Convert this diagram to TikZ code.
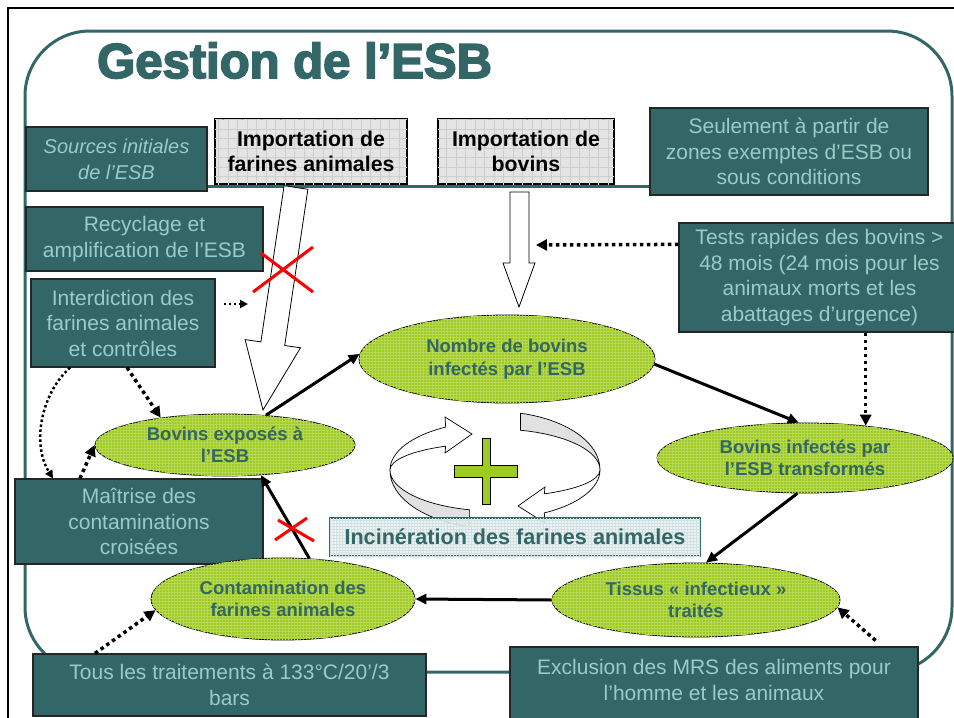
\documentclass[tikz,border=0pt]{standalone}
\usepackage{fontspec}
\setmainfont{Liberation Sans}
\newfontfamily\titlefont[FakeBold=3.5]{Liberation Sans Bold}
\usetikzlibrary{shapes.geometric,arrows.meta,patterns,patterns.meta,calc}
\definecolor{tealc}{RGB}{51,102,102}
\definecolor{ltealc}{RGB}{150,205,200}
\definecolor{greenc}{RGB}{158,202,36}
\definecolor{greenl}{RGB}{182,216,84}
\definecolor{greyc}{RGB}{228,228,228}
\definecolor{greyl}{RGB}{205,205,205}
\definecolor{incinc}{RGB}{234,242,242}
\definecolor{incinl}{RGB}{210,225,225}
\definecolor{ringgrey}{RGB}{225,225,225}
\begin{document}
\begin{tikzpicture}[x=1pt,y=-1pt,
  tealbox/.style={draw=black!85, line width=1.2pt, fill=tealc, text=ltealc, align=center, inner sep=0pt, font=\fontsize{21}{25.5}\selectfont},
  greybox/.style={draw=black, line width=2pt, fill=greyc,
     postaction={pattern={Lines[distance=9.5pt,angle=0,line width=0.5pt]}, pattern color=greyl},
     postaction={pattern={Lines[distance=9.5pt,angle=90,line width=0.5pt]}, pattern color=greyl},
     align=center, inner sep=0pt, font=\bfseries\fontsize{21.3}{25}\selectfont},
  ell/.style={ellipse, draw=black, line width=0.8pt, fill=greenc, postaction={pattern=grid, pattern color=greenl}, text=tealc, align=center, inner sep=0pt, font=\bfseries\fontsize{18.5}{22.5}\selectfont},
  solidarrow/.style={line width=3pt, -{Triangle[length=11pt,width=10pt]}},
  dotarrow/.style={line width=3.5pt, dash pattern=on 3.5pt off 3.5pt, -{Triangle[length=11pt,width=11pt]}},
  thindot/.style={line width=2.5pt, dash pattern=on 2.5pt off 2.5pt, -{Triangle[length=8pt,width=8pt]}},
  blockarrow/.style={fill=white, draw=black, line width=0.8pt},
  tealline/.style={draw=tealc, line width=3pt},
  redx/.style={draw=red, line width=3pt}
]
\useasboundingbox (0,0) rectangle (954,718);
\fill[white] (0,0) rectangle (954,718);
% slide frame
\draw[line width=2.5pt] (8,718) -- (8,8) -- (954,8);
\draw[tealline, rounded corners=65pt] (25,31) rectangle (952,672);

% title
\node[anchor=base west, text=tealc, font=\titlefont\fontsize{49}{50}\selectfont, inner sep=0pt] (title) at (97,78) {Gestion de l’ESB};

% boxes
\node[tealbox, minimum width=181pt, minimum height=64pt, font=\itshape\fontsize{20}{26}\selectfont] (srcs) at (116.5,159) {Sources initiales\\de l’ESB};
\draw[tealline] ([yshift=-27pt]srcs.east) -- ++(443,0) coordinate (tlineend);
\node[greybox, minimum width=192pt, minimum height=65pt] (farin) at (311,151.5) {Importation de\\farines animales};
\node[greybox, minimum width=176pt, minimum height=65pt] (bovimp) at (526,151.5) {Importation de\\bovins};
\node[tealbox, minimum width=278pt, minimum height=87pt] (seul) at (789,151.5) {Seulement à partir de\\zones exemptes d’ESB ou\\sous conditions};
\node[tealbox, minimum width=237pt, minimum height=64pt] (recyc) at (144.5,239) {Recyclage et\\amplification de l’ESB};
\node[tealbox, minimum width=184pt, minimum height=88pt] (interd) at (123,323) {Interdiction des\\farines animales\\et contrôles};
\node[tealbox, minimum width=281pt, minimum height=109pt] (tests) at (819.5,277.5) {Tests rapides des bovins >\\48 mois (24 mois pour les\\animaux morts et les\\abattages d’urgence)};
\node[tealbox, minimum width=248pt, minimum height=85pt] (maitr) at (139,521.5) {Maîtrise des\\contaminations\\croisées};
\node[tealbox, minimum width=393pt, minimum height=62pt] (tous) at (229.5,685) {Tous les traitements à 133°C/20’/3\\bars};
\node[tealbox, minimum width=408pt, minimum height=88pt] (excl) at (714,691) {};
\node[text=ltealc, font=\fontsize{21}{25.5}\selectfont, align=center, inner sep=0pt] (excltxt) at (714,680) {Exclusion des MRS des aliments pour\\l’homme et les animaux};

% block arrows
\filldraw[blockarrow] (284.1,185.7) -- (307.9,189.3) -- (284.7,345.5) -- (300.5,347.8) -- (263,410) -- (245.1,339.6) -- (260.9,341.9) -- cycle;
\filldraw[blockarrow] (510,192) -- (529,192) -- (529,263) -- (535,263) -- (519,307) -- (503,263) -- (510,263) -- cycle;

% red cross on the meal import arrow
\draw[redx] (253,292) -- (313,247) (261,253) -- (313,292);

% ellipses
\node[ell, minimum width=296pt, minimum height=88pt] (A) at (507,359) {Nombre de bovins\\infectés par l’ESB};
\node[ell, minimum width=260pt, minimum height=62pt] (B) at (225,445) {Bovins exposés à\\l’ESB};
\node[ell, minimum width=296pt, minimum height=70pt] (C) at (805,458) {Bovins infectés par\\l’ESB transformés};
\node[ell, minimum width=288pt, minimum height=74pt] (D) at (696,600) {Tissus «~infectieux~»\\traités};
\node[ell, minimum width=264pt, minimum height=82pt] (E) at (283,599) {Contamination des\\farines animales};

% cycle rings
\begin{scope}[shift={(495,470)}]
  \filldraw[fill=ringgrey, draw=black, line width=0.7pt] (-105,0) arc[start angle=180, end angle=104, x radius=105, y radius=41] -- ++(0,17) arc[start angle=104, end angle=180, x radius=105, y radius=58] -- cycle;
  \filldraw[fill=white, draw=black, line width=0.7pt] (-49.3,-42.9) arc[start angle=242, end angle=180, x radius=105, y radius=48.6] arc[start angle=180, end angle=242, x radius=105, y radius=27] -- (-50,-17) -- (-23,-36) -- (-50,-53) -- cycle;
  \begin{scope}[rotate=180]
    \filldraw[fill=ringgrey, draw=black, line width=0.7pt] (-105,0) arc[start angle=180, end angle=104, x radius=105, y radius=41] -- ++(0,17) arc[start angle=104, end angle=180, x radius=105, y radius=58] -- cycle;
    \filldraw[fill=white, draw=black, line width=0.7pt] (-49.3,-42.9) arc[start angle=242, end angle=180, x radius=105, y radius=48.6] arc[start angle=180, end angle=242, x radius=105, y radius=27] -- (-50,-17) -- (-23,-36) -- (-50,-53) -- cycle;
  \end{scope}
\end{scope}
\filldraw[fill=greenc, draw=black, line width=0.7pt] (482,438) -- (490,438) -- (490,465) -- (517,465) -- (517,477) -- (490,477) -- (490,504) -- (482,504) -- (482,477) -- (454,477) -- (454,465) -- (482,465) -- cycle;

\node[draw=tealc, line width=2pt, fill=incinc, fill opacity=0.85, text opacity=1,
  postaction={pattern=grid, pattern color=incinl},
  text=tealc, font=\bfseries\fontsize{21.6}{25}\selectfont, inner sep=0pt,
  minimum width=370pt, minimum height=38pt] (incin) at (515,537) {Incinération des farines animales};

% solid cycle connectors
\draw[solidarrow] (B.36) -- (A.178);
\draw[solidarrow] (A.-2) -- (C.100);
\draw[solidarrow] (C.258) -- (D.75);
\draw[solidarrow] (D.west) -- (E.east);
\draw[solidarrow] (E.57) -- (B.-40);
\draw[redx] (275,540) -- (307,518) (278,520) -- (314,541);

% dotted control arrows
\coordinate (tipT) at (536,245);
\draw[dotarrow] ([yshift=-22pt]tests.north west) -- (tipT);
\draw[dotarrow] (tests.south -| C.28) -- (C.28);
\coordinate (tipI) at (248,304);
\draw[thindot, shorten <=8pt] ([yshift=19pt]interd.east) -- (tipI);
\draw[dotarrow] ([xshift=4pt]interd.south) -- (B.157);
\draw[thindot] ([xshift=-53pt]interd.south) .. controls (40,395) and (32,445) .. ([xshift=-86pt]maitr.north);
\draw[dotarrow] ([xshift=-59pt]maitr.north) -- (B.west);
\draw[dotarrow] ([xshift=-134.5pt]tous.north) -- (E.185);
\draw[dotarrow] ([xshift=-43pt,yshift=6pt]excl.north east) -- (D.-3);
\end{tikzpicture}
\end{document}
